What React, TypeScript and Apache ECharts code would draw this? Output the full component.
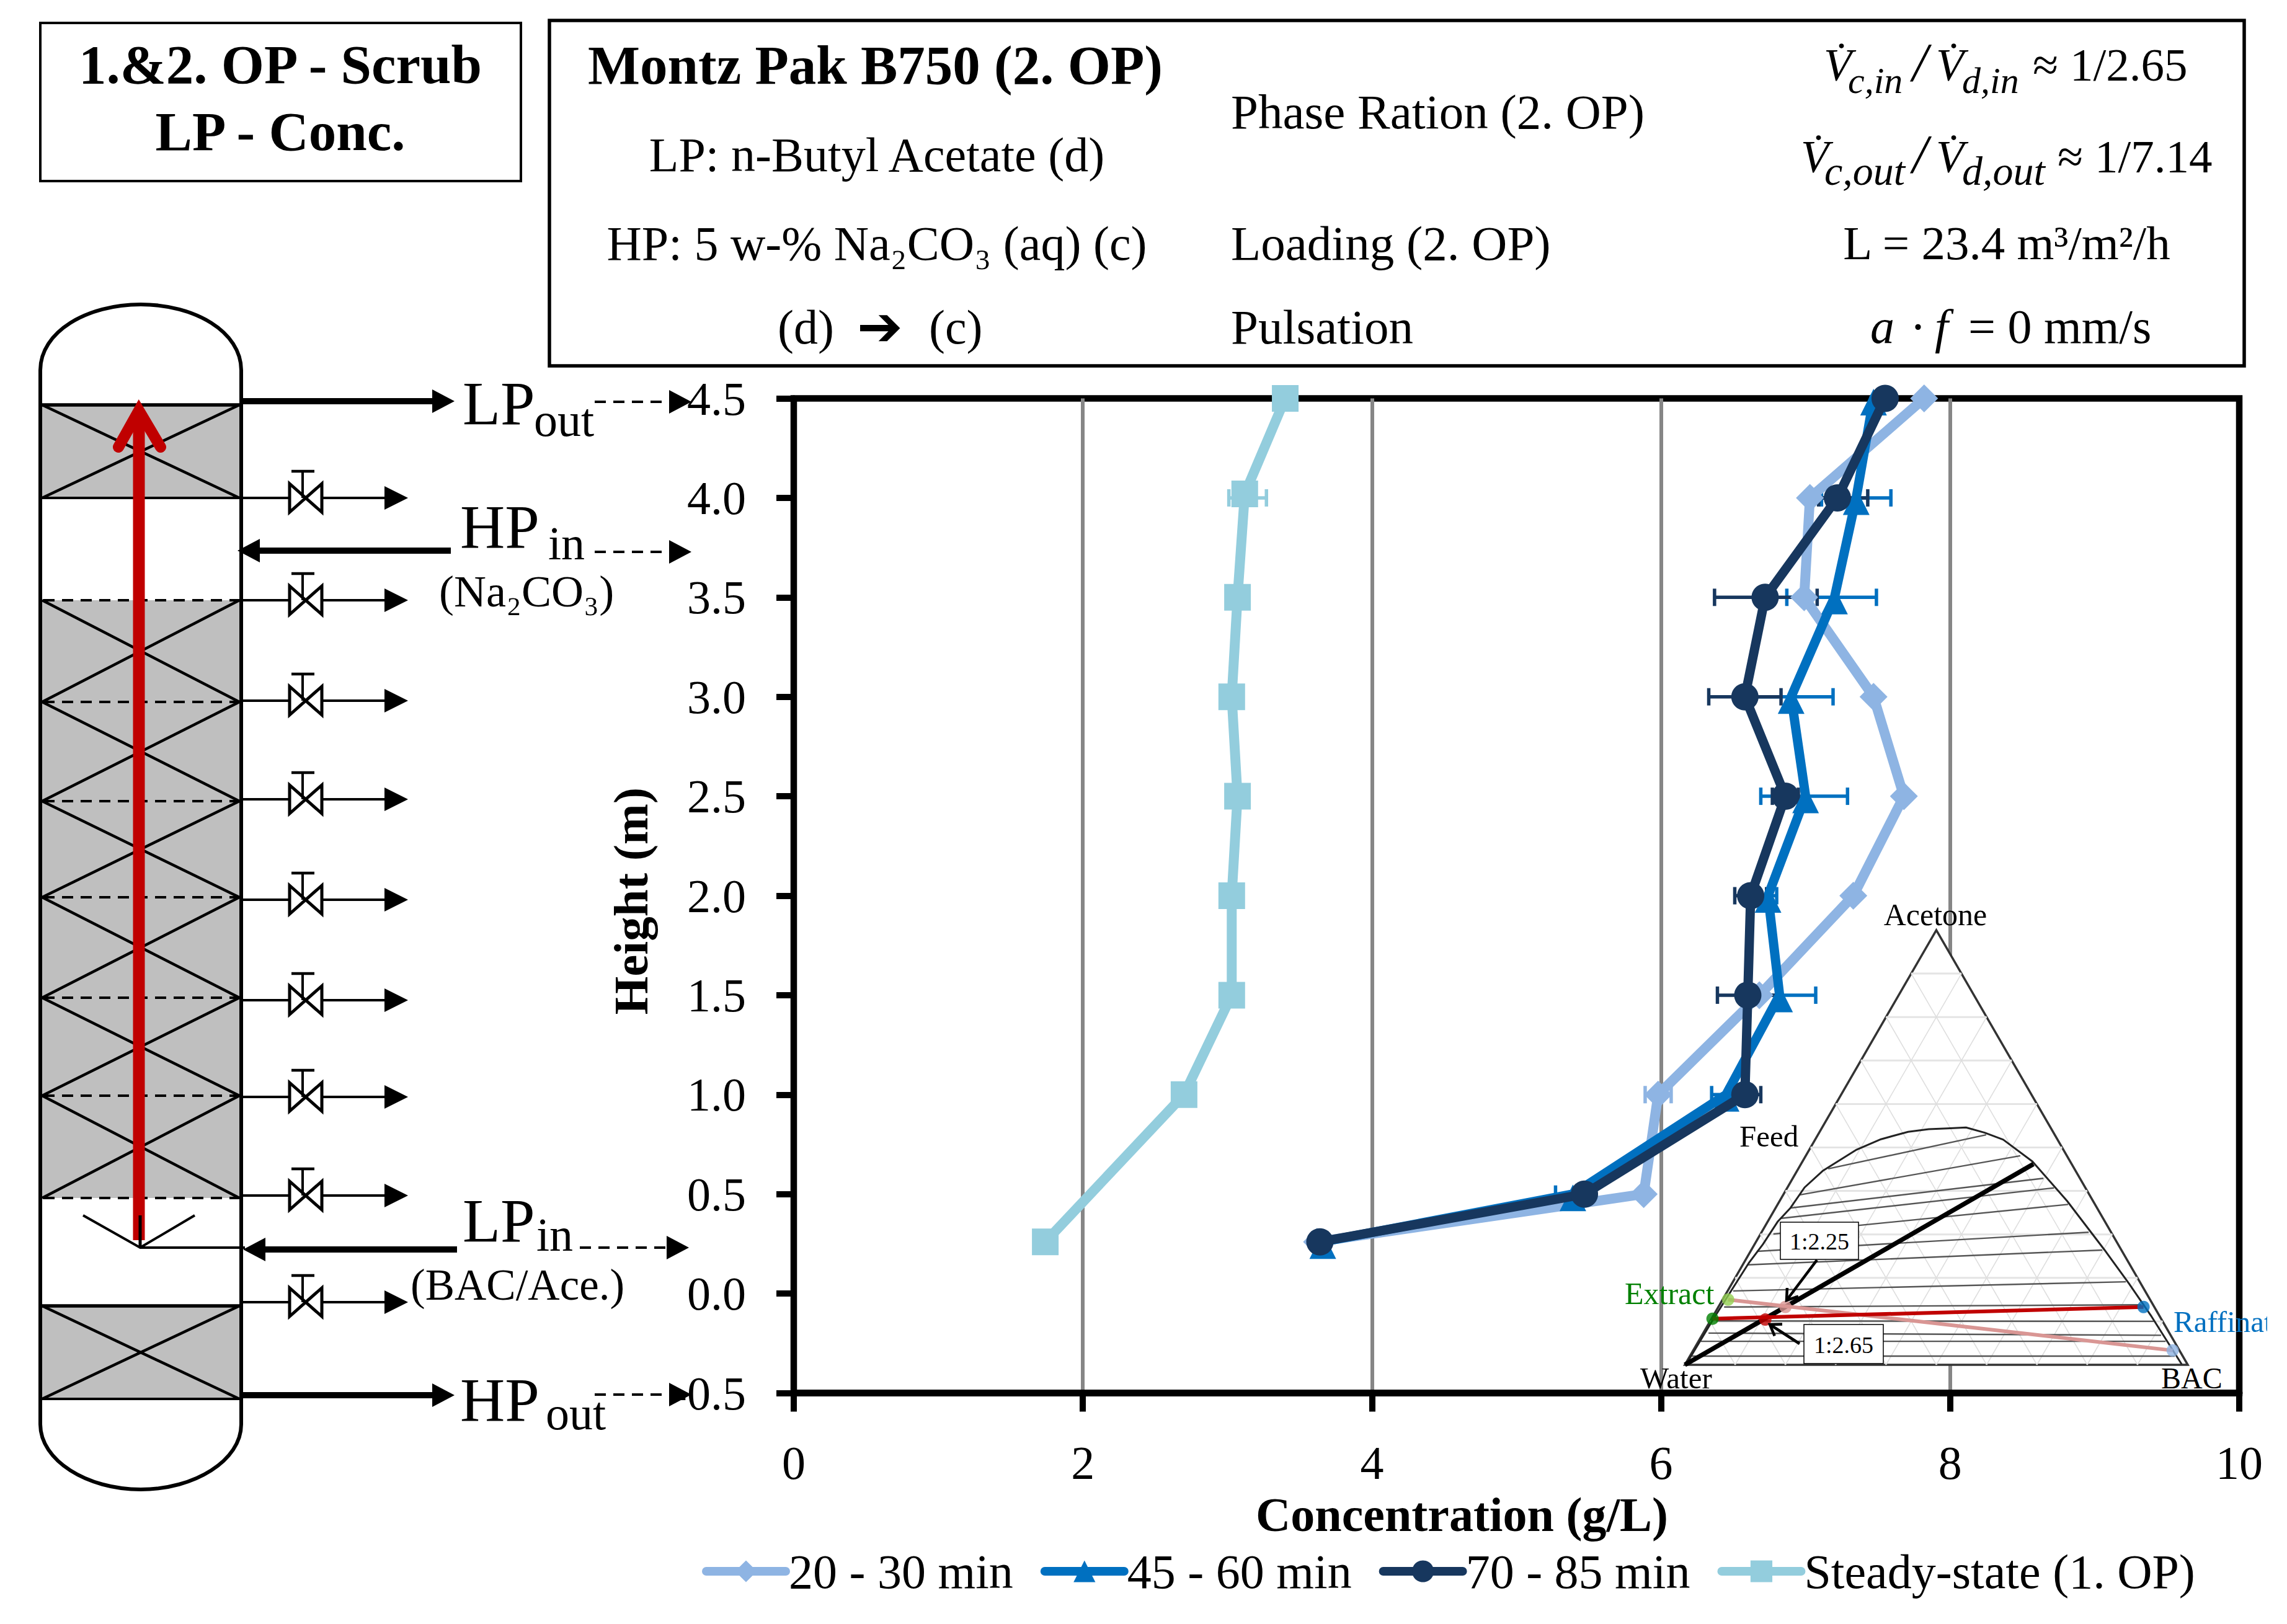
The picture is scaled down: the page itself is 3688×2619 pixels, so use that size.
import React, { useEffect, useRef } from 'react';
import * as echarts from 'echarts';

const FONT = '"Liberation Serif", serif';

// main chart data (height in m, concentration in g/L)
const heights = [4.5, 4.0, 3.5, 3.0, 2.5, 2.0, 1.5, 1.0, 0.5, 0.26];
const conc2030 = [7.82, 7.03, 6.99, 7.47, 7.68, 7.33, 6.68, 5.98, 5.88, 3.62];
const conc4560 = [7.47, 7.35, 7.20, 6.90, 7.00, 6.74, 6.82, 6.45, 5.39, 3.66];
const conc7085 = [7.55, 7.22, 6.72, 6.58, 6.86, 6.62, 6.60, 6.58, 5.47, 3.64];
const steadyHeights = [4.5, 4.02, 3.5, 3.0, 2.5, 2.0, 1.5, 1.0, 0.26];
const concSteady = [3.40, 3.12, 3.07, 3.03, 3.07, 3.03, 3.03, 2.70, 1.74];

// error bars: low, high, height
const err2030 = [[5.89, 6.07, 1.0]];
const err4560 = [[7.11, 7.59, 4.0], [6.87, 7.49, 3.5], [6.61, 7.19, 3.0], [6.69, 7.29, 2.5], [6.68, 6.80, 2.0], [6.57, 7.07, 1.5], [6.35, 6.55, 1.0], [5.27, 5.51, 0.5]];
const err7085 = [[7.09, 7.43, 4.0], [6.37, 7.08, 3.5], [6.33, 6.83, 3.0], [6.77, 6.95, 2.5], [6.51, 6.73, 2.0], [6.39, 6.81, 1.5], [6.47, 6.69, 1.0]];
const errSteady = [[3.01, 3.27, 4.0]];

const xTickStep = 2;
const yTickStep = 0.5;

// ternary inset, as fractions of the triangle's width and height
const triangle = [[0, 0], [1, 0], [0.5, 1]];
const binodal = [[0.004, 0.004], [0.057, 0.106], [0.099, 0.183], [0.127, 0.234], [0.155, 0.277], [0.185, 0.33], [0.21, 0.361], [0.238, 0.408], [0.275, 0.447], [0.34, 0.494], [0.39, 0.519], [0.444, 0.536], [0.485, 0.542], [0.522, 0.544], [0.559, 0.546], [0.596, 0.534], [0.633, 0.518], [0.691, 0.468], [0.76, 0.377], [0.834, 0.265], [0.883, 0.187], [0.928, 0.111], [0.988, 0.001]];
const tieLines = [
  [0.285, 0.451, 0.599, 0.529], [0.229, 0.391, 0.667, 0.481], [0.211, 0.361, 0.713, 0.429],
  [0.192, 0.337, 0.734, 0.407], [0.176, 0.301, 0.762, 0.369], [0.143, 0.261, 0.803, 0.305],
  [0.125, 0.23, 0.83, 0.264], [0.096, 0.17, 0.877, 0.191], [0.078, 0.133, 0.908, 0.138],
  [0.062, 0.101, 0.932, 0.1], [0.047, 0.073, 0.947, 0.068], [0.032, 0.054, 0.956, 0.054],
  [0.014, 0.02, 0.974, 0.02],
];
const feedLine = [[0, 0], [0.693, 0.462]];
const ratioLine265 = [[0.055, 0.106], [0.912, 0.133]];
const ratioLine225 = [[0.086, 0.15], [0.97, 0.033]];
const ternaryPoints = [
  { value: [0.055, 0.106], color: '#008000' }, { value: [0.086, 0.15], color: '#92D050' },
  { value: [0.2, 0.133], color: '#D99694' }, { value: [0.16, 0.104], color: '#C00000' },
  { value: [0.912, 0.133], color: '#0070C0' }, { value: [0.97, 0.033], color: '#8EB4E3' },
];

// column sketch, page pixels
const middleSections = [968, 1132, 1292, 1447, 1609, 1767, 1932];
const valveYs = [803, 968, 1130, 1289, 1451, 1613, 1769, 1928, 2100];

const shellPath = 'M65 597C65 535 140 491 227 491C314 491 389 535 389 597L389 2297C389 2355 314 2402 227 2402C140 2402 65 2355 65 2297Z';
echarts.graphic.registerShape('columnShell', echarts.graphic.extendPath(shellPath, {}));

function txt(x: number, baseline: number, text: string, size: number, o: any = {}) {
  return {
    type: 'text', x, y: baseline - size * 0.3375, z: o.z ?? 10, silent: true,
    style: {
      text, fontSize: size, fontFamily: o.family ?? FONT, fontWeight: o.weight ?? 'normal', fontStyle: o.italic ? 'italic' : 'normal',
      fill: o.color ?? '#000', align: o.align ?? 'left', verticalAlign: 'middle',
    },
  };
}
function seg(x1: number, y1: number, x2: number, y2: number, w: number, dash?: number[], color = '#000') {
  return { type: 'line', z: 10, silent: true, shape: { x1, y1, x2, y2 }, style: { stroke: color, lineWidth: w, lineDash: dash } };
}
function head(tipX: number, y: number, dir: number, len = 36, half = 19) {
  return { type: 'polygon', z: 10, silent: true, shape: { points: [[tipX, y], [tipX - dir * len, y - half], [tipX - dir * len, y + half]] }, style: { fill: '#000' } };
}
function boxRect(x: number, y: number, w: number, h: number, lw: number) {
  return { type: 'rect', z: 10, silent: true, shape: { x, y, width: w, height: h }, style: { fill: '#fff', stroke: '#000', lineWidth: lw } };
}

function columnSketch() {
  const els: any[] = [];
  els.push({ type: 'columnShell', z: 9, silent: true, style: { fill: '#fff', stroke: '#000', lineWidth: 6 } });
  const gray = (y1: number, y2: number) => ({ type: 'rect', z: 9, silent: true, shape: { x: 68, y: y1, width: 318, height: y2 - y1 }, style: { fill: '#BFBFBF' } });
  const cross = (y1: number, y2: number) => [seg(68, y1, 386, y2, 4.5), seg(68, y2, 386, y1, 4.5)];
  els.push(gray(653, 803), gray(968, 1932), gray(2106, 2256));
  els.push(...cross(653, 803), ...cross(2106, 2256));
  els.push(seg(68, 653, 386, 653, 5.5), seg(68, 803, 386, 803, 4), seg(68, 2106, 386, 2106, 5.5), seg(68, 2256, 386, 2256, 4));
  middleSections.forEach((y, i) => {
    els.push(seg(70, y, 386, y, 4, [18, 12]));
    if (i < middleSections.length - 1) els.push(...cross(y, middleSections[i + 1]));
  });
  valveYs.forEach((y) => {
    els.push(seg(389, y, 625, y, 4), head(658, y, 1, 38, 19));
    els.push({ type: 'polygon', z: 10, silent: true, shape: { points: [[467, y - 23], [519, y + 23], [519, y - 23], [467, y + 23]] }, style: { fill: '#fff', stroke: '#000', lineWidth: 5 } });
    els.push(seg(488, y, 488, y - 43, 4), seg(470, y - 43, 507, y - 43, 4.5));
  });
  // red flow arrow
  els.push(seg(224, 2000, 224, 665, 19, undefined, '#C00000'));
  els.push({ type: 'polyline', z: 10, silent: true, shape: { points: [[191, 721], [224, 662], [259, 721]] }, style: { stroke: '#C00000', lineWidth: 18, lineCap: 'round', lineJoin: 'miter', fill: 'none' } });
  // distributor
  els.push({ type: 'polyline', z: 10, silent: true, shape: { points: [[134, 1960], [226, 2012], [314, 1960]] }, style: { stroke: '#000', lineWidth: 4, fill: 'none' } });
  els.push(seg(226, 1960, 226, 2012, 5), seg(226, 2012, 395, 2012, 4));
  // streams
  els.push(seg(389, 647, 697, 647, 10), head(733, 647, 1));
  els.push(seg(959, 648, 1082, 648, 4, [18, 12]), head(1115, 648, 1));
  els.push(seg(415, 888, 727, 888, 10), head(383, 888, -1));
  els.push(seg(959, 890, 1082, 890, 4, [18, 12]), head(1115, 890, 1));
  els.push(seg(425, 2015, 737, 2015, 10), head(392, 2015, -1));
  els.push(seg(935, 2012, 1078, 2012, 4, [18, 12]), head(1111, 2012, 1));
  els.push(seg(389, 2250, 697, 2250, 10), head(733, 2250, 1));
  els.push(seg(959, 2249, 1082, 2249, 4, [18, 12]), head(1115, 2249, 1));
  // stream labels
  els.push(txt(746, 684, 'LP', 100), txt(861, 703, 'out', 76));
  els.push(txt(742, 883, 'HP', 100), txt(884, 902, 'in', 76));
  els.push(txt(708, 978, '(Na₂CO₃)', 72));
  els.push(txt(746, 2002, 'LP', 100), txt(865, 2017, 'in', 76));
  els.push(txt(662, 2096, '(BAC/Ace.)', 71));
  els.push(txt(742, 2291, 'HP', 100), txt(880, 2305, 'out', 76));
  return els;
}

function headerBoxes() {
  const els: any[] = [];
  els.push(boxRect(65, 37, 775, 255, 4), boxRect(886, 33, 2733, 557, 5.5));
  els.push(txt(452, 134, '1.&2. OP - Scrub', 89, { weight: 'bold', align: 'center' }));
  els.push(txt(452, 242, 'LP - Conc.', 89, { weight: 'bold', align: 'center' }));
  els.push(txt(948, 135, 'Montz Pak B750 (2. OP)', 89, { weight: 'bold' }));
  els.push(txt(1414, 276, 'LP: n-Butyl Acetate (d)', 78, { align: 'center' }));
  els.push(txt(1414, 419, 'HP: 5 w-% Na₂CO₃ (aq) (c)', 78, { align: 'center' }));
  els.push(txt(1254, 554, '(d)', 78), txt(1382, 556, '➔', 88, { family: '"DejaVu Sans"', weight: 'bold' }), txt(1498, 554, '(c)', 78));
  els.push(txt(1985, 207, 'Phase Ration (2. OP)', 79));
  els.push(txt(1985, 419, 'Loading (2. OP)', 79));
  els.push(txt(1985, 554, 'Pulsation', 79));
  // flow ratio formulas
  els.push(txt(2941, 130, 'V̇', 74, { italic: true }), txt(2980, 150, 'c,in', 60, { italic: true }), txt(3084, 130, '/', 88, { italic: true }));
  els.push(txt(3122, 130, 'V̇', 74, { italic: true }), txt(3164, 150, 'd,in', 60, { italic: true }), txt(3278, 130, '≈ 1/2.65', 75));
  els.push(txt(2904, 278, 'V̇', 74, { italic: true }), txt(2942, 298, 'c,out', 66, { italic: true }), txt(3084, 278, '/', 88, { italic: true }));
  els.push(txt(3122, 278, 'V̇', 74, { italic: true }), txt(3164, 298, 'd,out', 66, { italic: true }), txt(3318, 278, '≈ 1/7.14', 75));
  els.push(txt(3236, 418, 'L = 23.4 m³/m²/h', 77, { align: 'center' }));
  els.push(txt(3016, 553, 'a', 78, { italic: true }), txt(3080, 553, '·', 78), txt(3120, 553, 'f', 78, { italic: true }), txt(3174, 553, '= 0 mm/s', 78));
  return els;
}

function ternaryLabels() {
  const els: any[] = [];
  els.push(txt(3121, 1492, 'Acetone', 50, { align: 'center' }));
  els.push(txt(2805, 1849, 'Feed', 49));
  els.push(txt(2645, 2239, 'Water', 49, { z: 20 }), txt(3485, 2239, 'BAC', 48, { z: 20 }));
  els.push(txt(2620, 2103, 'Extract', 50, { color: '#008000' }));
  els.push(txt(3505, 2148, 'Raffinate', 49, { color: '#0070C0', z: 20 }));
  // the reference cuts this label off here
  els.push({ type: 'rect', z: 21, silent: true, shape: { x: 3656, y: 2095, width: 32, height: 70 }, style: { fill: '#fff' } });
  const small = (x: number, y: number, w: number, h: number) => ({ type: 'rect', z: 12, silent: true, shape: { x, y, width: w, height: h }, style: { fill: '#fff', stroke: '#000', lineWidth: 1.5 } });
  els.push(small(2871, 1971, 126, 60), txt(2934, 2015, '1:2.25', 38, { align: 'center', z: 13 }));
  els.push(small(2909, 2136, 128, 63), txt(2973, 2182, '1:2.65', 38, { align: 'center', z: 13 }));
  const arrow = (x1: number, y1: number, x2: number, y2: number) => {
    const a = Math.atan2(y2 - y1, x2 - x1);
    const b = 20;
    return [
      { ...seg(x1, y1, x2, y2, 4.5), z: 12 },
      { type: 'polyline', z: 12, silent: true, shape: { points: [[x2 - b * Math.cos(a - 0.6), y2 - b * Math.sin(a - 0.6)], [x2, y2], [x2 - b * Math.cos(a + 0.6), y2 - b * Math.sin(a + 0.6)]] }, style: { stroke: '#000', lineWidth: 4.5, fill: 'none' } },
    ];
  };
  els.push(...arrow(2930, 2032, 2881, 2097), ...arrow(2902, 2167, 2854, 2136));
  return els;
}

const errorSeries = (data: number[][], color: string) => ({
  type: 'custom', coordinateSystem: 'cartesian2d', xAxisIndex: 0, yAxisIndex: 0, z: 3, data, silent: true,
  encode: { x: [0, 1], y: 2 },
  renderItem: (_p: any, api: any) => {
    const a = api.coord([api.value(0), api.value(2)]);
    const b = api.coord([api.value(1), api.value(2)]);
    const st = { stroke: color, lineWidth: 5.5 };
    return {
      type: 'group',
      children: [
        { type: 'line', shape: { x1: a[0], y1: a[1], x2: b[0], y2: b[1] }, style: st },
        { type: 'line', shape: { x1: a[0], y1: a[1] - 14, x2: a[0], y2: a[1] + 14 }, style: st },
        { type: 'line', shape: { x1: b[0], y1: b[1] - 14, x2: b[0], y2: b[1] + 14 }, style: st },
      ],
    };
  },
});

const lineSeries = (name: string, xs: number[], ys: number[], color: string, symbol: string, size: number, width: number, z: number, offset?: number[]) => ({
  name, type: 'line', xAxisIndex: 0, yAxisIndex: 0, z, clip: false, symbol, symbolSize: size, symbolOffset: offset,
  data: xs.map((x, i) => [x, ys[i]]),
  lineStyle: { color, width, cap: 'round', join: 'round' }, itemStyle: { color },
});

const segmentSeries = (data: number[][], stroke: string, width: number) => ({
  type: 'custom', coordinateSystem: 'cartesian2d', xAxisIndex: 1, yAxisIndex: 1, z: 2, data, silent: true,
  encode: { x: [0, 2], y: [1, 3] },
  renderItem: (_p: any, api: any) => {
    const a = api.coord([api.value(0), api.value(1)]);
    const b = api.coord([api.value(2), api.value(3)]);
    return { type: 'line', shape: { x1: a[0], y1: a[1], x2: b[0], y2: b[1] }, style: { stroke, lineWidth: width } };
  },
});

const ternaryLine = (data: number[][], color: string, width: number, z = 2) => ({
  type: 'line', xAxisIndex: 1, yAxisIndex: 1, z, data, showSymbol: false, symbol: 'none', clip: false, silent: true,
  lineStyle: { color, width },
});

export default function App() {
  const ref = useRef<HTMLDivElement | null>(null);

  useEffect(() => {
    if (!ref.current) return;
    const chart = echarts.init(ref.current, undefined, { renderer: 'svg' });

    // 10 % ternary mesh
    const meshH: number[][] = [];
    const meshS: number[][] = [];
    for (let i = 1; i < 10; i++) {
      const v = i / 10;
      meshH.push([v / 2, v, 1 - v / 2, v]);
      meshS.push([v, 0, (1 + v) / 2, 1 - v]);
      meshS.push([v, 0, v / 2, v]);
    }

    chart.setOption({
      animation: false,
      backgroundColor: '#fff',
      grid: [
        { left: 1280, top: 642.5, width: 2331, height: 1604, show: true, borderColor: '#000', borderWidth: 10.5, backgroundColor: 'transparent' },
        { left: 2717, top: 1500, width: 811, height: 701 },
      ],
      xAxis: [
        {
          type: 'value', gridIndex: 0, min: 0, max: 10, interval: xTickStep,
          name: 'Concentration (g/L)', nameLocation: 'middle', nameGap: 157,
          nameTextStyle: { fontFamily: FONT, fontSize: 78, fontWeight: 'bold', color: '#000', padding: [0, 176, 0, 0] },
          axisLine: { onZero: false, lineStyle: { color: '#000', width: 11 } },
          axisTick: { length: 30, lineStyle: { color: '#000', width: 10 } },
          axisLabel: { margin: 74, fontFamily: FONT, fontSize: 76, color: '#000' },
          splitLine: { show: true, showMinLine: false, showMaxLine: false, lineStyle: { color: '#868686', width: 6 } },
        },
        { type: 'value', gridIndex: 1, min: 0, max: 1, show: false },
      ],
      yAxis: [
        {
          type: 'value', gridIndex: 0, min: -0.5, max: 4.5, interval: yTickStep,
          name: 'Height (m)', nameLocation: 'middle', nameGap: 223,
          nameTextStyle: { fontFamily: FONT, fontSize: 79, fontWeight: 'bold', color: '#000', padding: [0, 17, 0, 0] },
          axisLine: { onZero: false, lineStyle: { color: '#000', width: 10 } },
          axisTick: { length: 28, lineStyle: { color: '#000', width: 10 } },
          axisLabel: { margin: 77, fontFamily: FONT, fontSize: 76, color: '#000', formatter: (v: number) => v.toFixed(1) },
          splitLine: { show: false },
        },
        { type: 'value', gridIndex: 1, min: 0, max: 1, show: false },
      ],
      legend: {
        left: 1132, top: 2495, padding: 0, itemWidth: 128, itemHeight: 44, itemGap: 44,
        data: ['20 - 30 min', '45 - 60 min', '70 - 85 min', 'Steady-state (1. OP)'],
        textStyle: { fontFamily: FONT, fontSize: 78, color: '#000' },
        lineStyle: { width: 14, cap: 'round' },
      },
      graphic: { elements: [...columnSketch(), ...headerBoxes(), ...ternaryLabels()] },
      series: [
        // ternary inset first, it sits under the curves
        {
          type: 'custom', coordinateSystem: 'cartesian2d', xAxisIndex: 1, yAxisIndex: 1, z: 2, silent: true,
          data: [triangle.flat()], encode: { x: [0, 2, 4], y: [1, 3, 5] },
          renderItem: (_p: any, api: any) => ({
            type: 'polygon',
            shape: { points: [0, 2, 4].map((i) => api.coord([api.value(i), api.value(i + 1)])) },
            style: { fill: '#fff', stroke: '#333', lineWidth: 3.5 },
          }),
        },
        segmentSeries(meshH, '#e4e4e4', 3),
        segmentSeries(meshS, '#dedede', 1.6),
        segmentSeries(tieLines, '#555', 2.4),
        ternaryLine(binodal, '#222', 3),
        ternaryLine(feedLine, '#000', 7.5),
        ternaryLine(ratioLine225, '#D99694', 6),
        ternaryLine(ratioLine265, '#C00000', 6),
        {
          type: 'scatter', xAxisIndex: 1, yAxisIndex: 1, z: 2, symbolSize: 20, silent: true,
          data: ternaryPoints.map((p) => ({ value: p.value, itemStyle: { color: p.color } })),
        },
        errorSeries(errSteady, '#93CDDD'),
        errorSeries(err2030, '#8EB4E3'),
        errorSeries(err4560, '#0070C0'),
        errorSeries(err7085, '#17375E'),
        lineSeries('20 - 30 min', conc2030, heights, '#8EB4E3', 'diamond', 45, 16, 4),
        lineSeries('45 - 60 min', conc4560, heights, '#0070C0', 'triangle', 43, 15, 5, [0, 6]),
        lineSeries('70 - 85 min', conc7085, heights, '#17375E', 'circle', 44, 15, 6),
        lineSeries('Steady-state (1. OP)', concSteady, steadyHeights, '#93CDDD', 'rect', 43, 16, 4),
      ],
    });

    return () => { chart.dispose(); };
  }, []);

  return <div ref={ref} style={{ position: 'absolute', left: 0, top: 0, width: 3688, height: 2619 }} />;
}
